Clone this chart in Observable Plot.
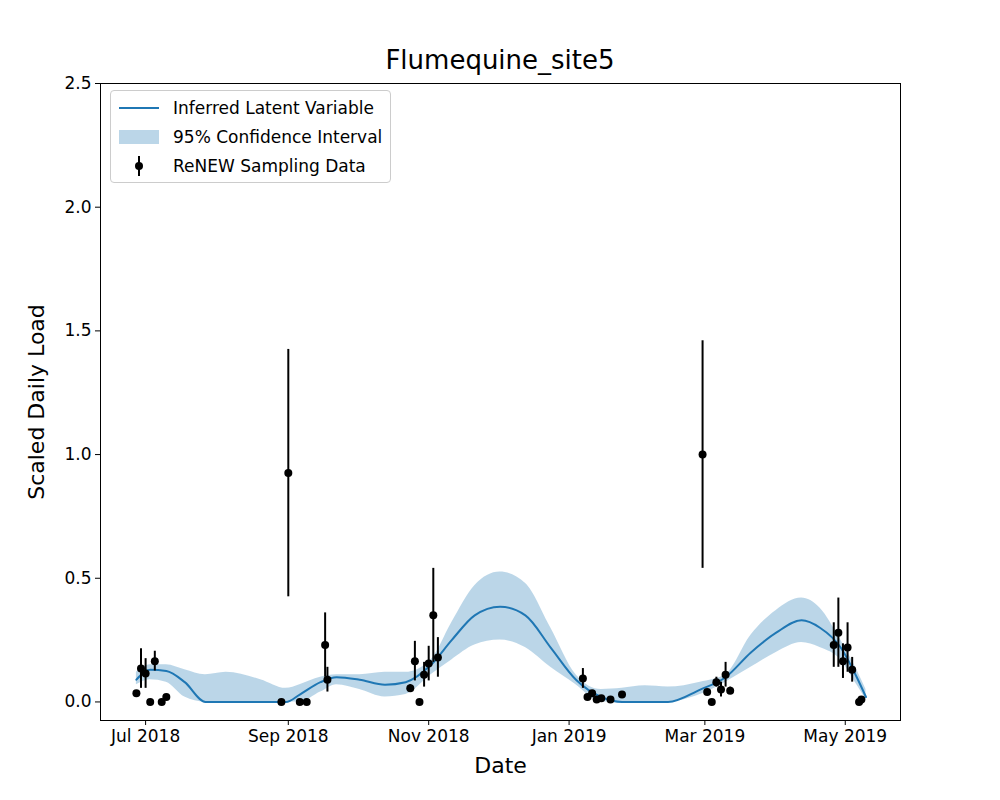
<!DOCTYPE html>
<html><head><meta charset="utf-8">
<script src="https://cdn.jsdelivr.net/npm/d3@7"></script>
<script src="https://cdn.jsdelivr.net/npm/@observablehq/plot@0.6"></script>
<style>
body{margin:0;background:#fff;font-family:"DejaVu Sans",sans-serif;width:1000px;height:800px;position:relative}
#title{position:absolute;top:45px;left:0;width:1000px;text-align:center;font-size:26px}
#chart{position:absolute;top:75px;left:0}
#legend{position:absolute;left:110px;top:90px;border:1px solid #ccc;border-radius:4px;background:rgba(255,255,255,0.85);padding:2px 8px;font-size:17px}
.row{display:flex;align-items:center;height:29px}
.sw{width:40px;margin-right:14px;display:flex;justify-content:center;align-items:center}
</style></head><body>
<div id="title">Flumequine_site5</div>
<div id="chart"></div>
<div id="legend">
<div class="row"><div class="sw"><div style="width:40px;height:2px;background:#1f77b4"></div></div>Inferred Latent Variable</div>
<div class="row"><div class="sw"><div style="width:40px;height:14px;background:#bbd6e8"></div></div>95% Confidence Interval</div>
<div class="row"><div class="sw"><svg width="20" height="22"><line x1="10" y1="1" x2="10" y2="21" stroke="black" stroke-width="2"/><circle cx="10" cy="11" r="4" fill="black"/></svg></div>ReNEW Sampling Data</div>
</div>
<script>
const baseDate = Date.UTC(2018, 6, 1);
const sampleDays = [-4,-2,0,2,4,7,9,59,62,67,70,78,79,115,117,119,121,123,125,127,190,192,194,196,198,202,207,242,244,246,248,250,252,254,299,301,303,305,307,310,311];
const sampleVals = [0.035,0.135,0.115,0,0.165,0,0.02,0,0.925,0,0,0.23,0.09,0.055,0.165,0,0.11,0.155,0.35,0.18,0.095,0.02,0.035,0.01,0.015,0.01,0.03,1.0,0.04,0,0.08,0.05,0.11,0.045,0.23,0.28,0.165,0.22,0.13,0,0.01];
const sampleErr = [0.01,0.08,0.06,0,0.04,0,0.01,0,0.5,0,0,0.13,0.05,0.015,0.08,0,0.05,0.07,0.19,0.08,0.04,0.01,0.01,0.005,0.005,0.005,0.005,0.46,0.01,0,0.02,0.03,0.05,0.015,0.09,0.14,0.07,0.1,0.05,0,0.005];
const curveDays = [-4,2,9,17,26,35,50,61,67,76,83,93,104,113,124,133,143,154,165,176,187,198,207,217,227,241,252,263,274,285,293,302,309,313];
const curveMean = [0.09,0.13,0.125,0.08,0,0,0,0,0.03,0.08,0.10,0.09,0.07,0.08,0.15,0.25,0.35,0.385,0.35,0.22,0.09,0.02,0,0,0,0.05,0.1,0.2,0.28,0.33,0.3,0.22,0.1,0.02];
const curveLo = [0.07,0.09,0.08,0.02,0,0,0,0,0,0.04,0.07,0.05,0.02,0.03,0.11,0.17,0.23,0.25,0.22,0.14,0.07,0,0,0,0,0.03,0.08,0.14,0.2,0.24,0.22,0.17,0.07,0.01];
const curveHi = [0.12,0.15,0.15,0.13,0.11,0.12,0.09,0.055,0.07,0.1,0.11,0.11,0.12,0.12,0.17,0.32,0.47,0.525,0.48,0.3,0.11,0.05,0.055,0.065,0.06,0.08,0.11,0.27,0.37,0.42,0.38,0.25,0.13,0.05];
const xTicks = ["2018-07-01","2018-09-01","2018-11-01","2019-01-01","2019-03-01","2019-05-01"];
const yTicks = [0,0.5,1,1.5,2,2.5];

const dt = d => new Date(baseDate + d*86400000);
const samples = sampleDays.map((d,i)=>({x:dt(d),y:sampleVals[i],lo:sampleVals[i]-sampleErr[i],hi:sampleVals[i]+sampleErr[i]}));
const curve = curveDays.map((d,i)=>({x:dt(d),m:curveMean[i],lo:curveLo[i],hi:curveHi[i]}));

const chart = Plot.plot({
  width:1000, height:725,
  marginLeft:100, marginRight:100, marginTop:8, marginBottom:80,
  style:{fontSize:"17px", fontFamily:"DejaVu Sans", overflow:"visible"},
  x:{type:"utc", domain:[dt(-19.6), dt(328)], ticks:xTicks.map(s=>new Date(s)), tickFormat:d3.utcFormat("%b %Y"), label:"Date", labelArrow:"none", labelAnchor:"center", labelOffset:52, tickSize:5},
  y:{domain:[-0.075,2.5], ticks:yTicks, tickFormat:d3.format(".1f"), label:"Scaled Daily Load", labelArrow:"none", labelAnchor:"center", labelOffset:72, tickSize:5},
  marks:[
    Plot.areaY(curve,{x:"x",y1:"lo",y2:"hi",fill:"#1f77b4",fillOpacity:0.3,curve:"monotone-x"}),
    Plot.line(curve,{x:"x",y:"m",stroke:"#1f77b4",strokeWidth:2,curve:"monotone-x"}),
    Plot.ruleX(samples,{x:"x",y1:"lo",y2:"hi",stroke:"black",strokeWidth:2}),
    Plot.dot(samples,{x:"x",y:"y",r:4,fill:"black"}),
    Plot.frame({stroke:"black"})
  ]
});
chart.querySelectorAll("[aria-label='x-axis label'] text, [aria-label='y-axis label'] text").forEach(t=>t.style.fontSize="22px");
document.getElementById("chart").appendChild(chart);
</script>
</body></html>
